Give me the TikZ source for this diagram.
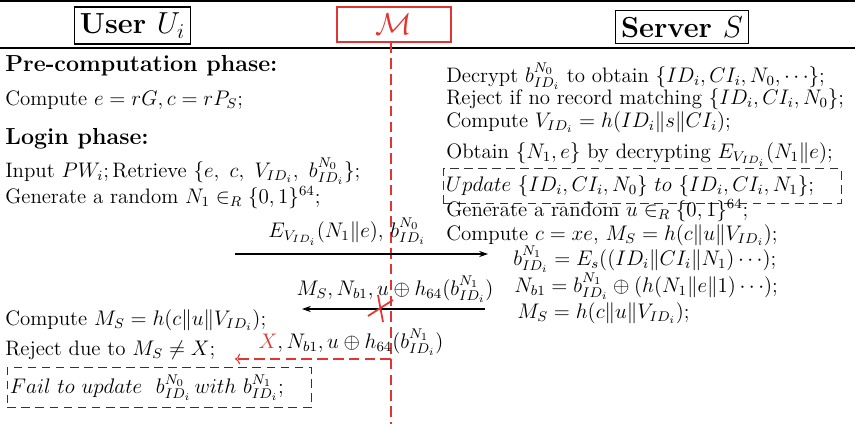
\documentclass[tikz,border=0pt]{standalone}
\usetikzlibrary{arrows.meta}
\definecolor{mred}{RGB}{226,52,48}
\begin{document}
\begin{tikzpicture}[x=0.02cm, y=-0.02cm,
  every node/.style={font=\fontsize{11.9}{14}\selectfont},
  txt/.style={anchor=base west, inner sep=0pt},
  lbl/.style={anchor=base, inner sep=0pt},
  party/.style={draw, semithick, font=\fontsize{16.5}{20}\selectfont\bfseries, minimum height=0.67cm},
  phase/.style={txt, font=\fontsize{13.2}{16}\selectfont\bfseries},
  dbox/.style={draw=black!80, dashed, dash pattern=on 5pt off 3pt, inner xsep=1.5pt, inner ysep=4pt, anchor=west},
  msg/.style={semithick, -{Stealth[length=5pt, width=3.5pt]}}]
  \useasboundingbox (0,0) rectangle (855,424);
  % header
  \draw[semithick] (0,1) -- (855,1);
  \draw[semithick] (0,48) -- (855,48);
  \node[party, minimum width=2.3cm] (user) at (132.5,25.5) {User $U_i$};
  \node[party, minimum width=2.6cm] (server) at (682,27) {Server $S$};
  \node[party, draw=mred, text=mred, minimum width=2.28cm, minimum height=0.7cm] (adv) at (394,24.5) {$\mathcal{M}$};
  \coordinate (advend) at (391,424);
  \draw[mred, semithick, dashed, dash pattern=on 6pt off 3pt] (adv.south -| advend) -- (advend);

  % user side
  \node[phase] (pre) at (5,71) {Pre-computation phase:};
  \node[txt] (pre1) at (5,105) {Compute $e=rG, c=rP_S$;};
  \node[phase] (login) at (5,144) {Login phase:};
  \node[txt] (log1) at (5,177) {Input $PW_i;$\,Retrieve $\{e,\ c,\ V_{ID_i},\ b^{N_0}_{ID_i}\}$;};
  \node[txt] (log2) at (5,203) {Generate a random $N_1 \in_R \{0,1\}^{64}$;};
  \node[txt] (log3) at (5,325) {Compute $M_S = h(c\|u\|V_{ID_i})$;};
  \node[txt] (log4) at (5,355) {Reject due to $M_S \neq X$;};
  \node[dbox] (fail) at (7,387.5) {$Fail\ to\ update\ \ b^{N_0}_{ID_i}\,with\ b^{N_1}_{ID_i};\quad\,$};

  % server side
  \node[txt] (srv1) at (446,82) {Decrypt $b^{N_0}_{ID_i}$ to obtain $\{ID_i, CI_i, N_0, \cdots\}$;};
  \node[txt] (srv2) at (446,104) {Reject if no record matching $\{ID_i, CI_i, N_0\}$;};
  \node[txt] (srv3) at (446,127) {Compute $V_{ID_i} = h(ID_i\|s\|CI_i)$;};
  \node[txt] (srv4) at (446,158) {Obtain $\{N_1, e\}$ by decrypting $E_{V_{ID_i}}(N_1\|e)$;};
  \node[dbox] (upd) at (443,186) {$Update\ \{ID_i, CI_i, N_0\}\ to\ \{ID_i, CI_i, N_1\};\quad\,$};
  \node[txt] (srv5) at (446,216) {Generate a random $u \in_R \{0,1\}^{64}$;};
  \node[txt] (srv6) at (446,240) {Compute $c = xe$, $M_S = h(c\|u\|V_{ID_i})$;};
  \node[txt] (srv7) at (513,265) {$b^{N_1}_{ID_i} = E_s((ID_i\|CI_i\|N_1)\cdots)$;};
  \node[txt] (srv8) at (514,292) {$N_{b1} = b^{N_1}_{ID_i} \oplus (h(N_1\|e\|1)\cdots)$;};
  \node[txt] (srv9) at (517,318) {$M_S = h(c\|u\|V_{ID_i})$;};

  % messages
  \coordinate (m1s) at (235,254);
  \coordinate (m1e) at (488,254);
  \draw[msg] (m1s) -- (m1e);
  \node[lbl] (m1) at (347,237) {$E_{V_{ID_i}}(N_1\|e)$, $b^{N_0}_{ID_i}$};

  \coordinate (m2s) at (485,309);
  \coordinate (m2e) at (302,309);
  \draw[msg] (m2s) -- (m2e);
  \node[lbl] (m2) at (395,295) {$M_S, N_{b1}, u\oplus h_{64}(b^{N_1}_{ID_i})$};

  % cut by the adversary
  \coordinate (cut1a) at (368,316);
  \coordinate (cut1b) at (393,300);
  \coordinate (cut2a) at (378,295);
  \coordinate (cut2b) at (383,322);
  \draw[mred, line width=1pt] (cut1a) -- (cut1b);
  \draw[mred, line width=1pt] (cut2a) -- (cut2b);

  \coordinate (m3s) at (391,359);
  \coordinate (m3e) at (235,359);
  \draw[mred, semithick, dashed, dash pattern=on 6pt off 3pt, ->] (m3s) -- (m3e);
  \node[lbl] (m3) at (351,348) {${\color{mred}X}, N_{b1}, u\oplus h_{64}(b^{N_1}_{ID_i})$};
\end{tikzpicture}
\end{document}
